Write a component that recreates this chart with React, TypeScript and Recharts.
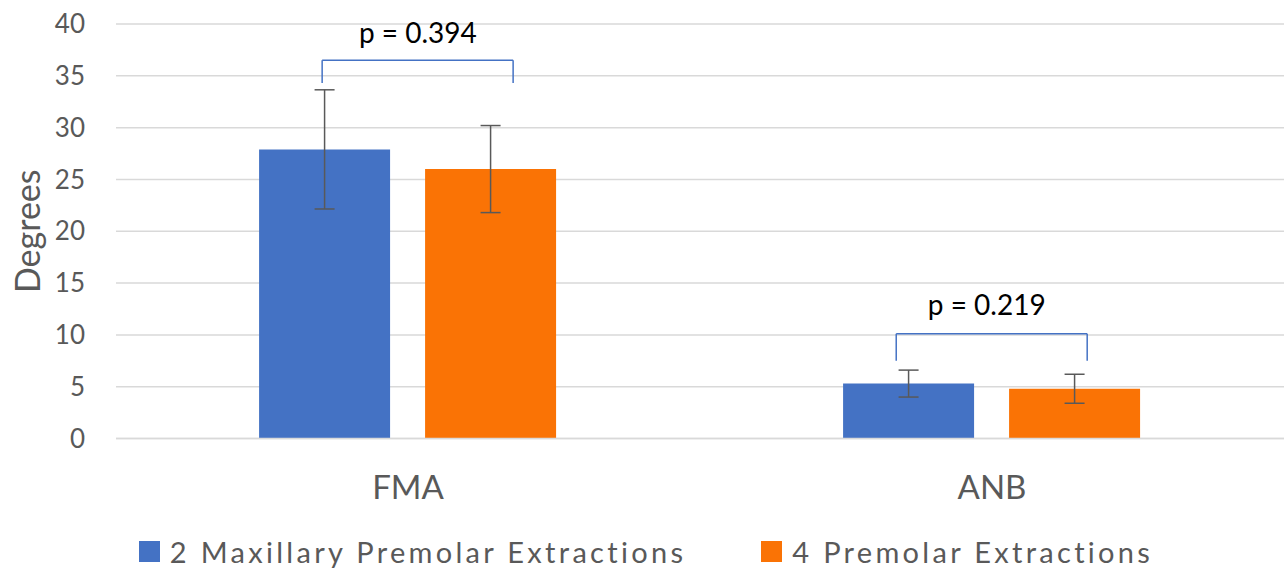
import React from 'react';
import {
  BarChart,
  Bar,
  XAxis,
  YAxis,
  CartesianGrid,
  ErrorBar,
  Legend,
  ReferenceLine,
  ReferenceDot,
} from 'recharts';

// Mean angles (degrees) and standard deviations per measurement
const categories = ['FMA', 'ANB'];
const categoryCentres = [0.5, 1.5];
const maxillaryMeans = [27.9, 5.3];
const maxillarySD = [5.75, 1.3];
const premolarMeans = [26.0, 4.8];
const premolarSD = [4.2, 1.4];
const yTicks = [0, 5, 10, 15, 20, 25, 30, 35, 40];

// Significance brackets; x runs 0..2 across the two category bands
const pLabels = ['p = 0.394', 'p = 0.219'];
const bracketLeft = [0.353, 1.336];
const bracketRight = [0.68, 1.663];
const bracketTop = [36.5, 10.1];
const bracketFoot = [34.3, 7.5];
const pLabelX = [0.517, 1.491];
const pLabelY = [39.1, 12.9];

const FONT = 'Lato, "Open Sans", sans-serif';
const GREY_TEXT = '#595959';
const BLUE = '#4472C4';
const ORANGE = '#FA7305';

const data = categories.map((c, i) => ({
  category: c,
  pos: categoryCentres[i],
  maxillary: maxillaryMeans[i],
  maxillarySD: maxillarySD[i],
  premolar: premolarMeans[i],
  premolarSD: premolarSD[i],
}));

const renderLegend = (props: any) => {
  const payload = props.payload || [];
  return (
    <div
      style={{
        display: 'flex',
        justifyContent: 'center',
        alignItems: 'center',
        height: 30,
        fontFamily: FONT,
        fontSize: 29,
        letterSpacing: 3.3,
        color: GREY_TEXT,
        paddingLeft: 8,
      }}
    >
      {payload.map((entry: any, i: number) => (
        <div
          key={i}
          style={{ display: 'flex', alignItems: 'center', marginLeft: i ? 75 : 0 }}
        >
          <span
            style={{
              display: 'inline-block',
              width: 21,
              height: 21,
              background: entry.color,
              marginRight: 10,
            }}
          />
          <span>{entry.value}</span>
        </div>
      ))}
    </div>
  );
};

const renderYLabel = (p: any) => {
  const vb = p.viewBox || { x: 0, y: 0, width: 0, height: 0 };
  const cx = vb.x + 26;
  const cy = vb.y + vb.height / 2;
  return (
    <text
      x={cx}
      y={cy}
      transform={`rotate(-90 ${cx} ${cy})`}
      textAnchor="middle"
      dominantBaseline="central"
      fill={GREY_TEXT}
      fontFamily={FONT}
      fontSize={34}
    >
      Degrees
    </text>
  );
};

export default function App() {
  return (
    <div style={{ position: 'absolute', left: 0, top: 0, background: '#fff' }}>
      <BarChart
        width={1288}
        height={572}
        data={data}
        margin={{ top: 24, right: 4, left: 0, bottom: 6 }}
        barCategoryGap="24.5%"
        barGap={35}
      >
        <CartesianGrid vertical={false} stroke="#d9d9d9" strokeWidth={1.5} />
        <XAxis
          dataKey="category"
          axisLine={{ stroke: '#d9d9d9', strokeWidth: 1.5 }}
          tickLine={false}
          tickSize={0}
          tickMargin={37}
          height={97.5}
          tick={{ fill: GREY_TEXT, fontSize: 33, fontFamily: FONT }}
        />
        <XAxis
          xAxisId="n"
          dataKey="pos"
          type="number"
          domain={[0, 2]}
          hide
          allowDataOverflow
        />
        <YAxis
          domain={[0, 40]}
          ticks={yTicks}
          interval={0}
          axisLine={false}
          tickLine={false}
          tickSize={0}
          tickMargin={31}
          width={116}
          tick={{ fill: GREY_TEXT, fontSize: 26, fontFamily: FONT }}
          label={{ content: renderYLabel }}
        />
        <Legend verticalAlign="bottom" height={30} content={renderLegend} />
        <Bar
          dataKey="maxillary"
          name="2 Maxillary Premolar Extractions"
          fill={BLUE}
          isAnimationActive={false}
        >
          <ErrorBar dataKey="maxillarySD" width={10} stroke="#595959" strokeWidth={1.5} />
        </Bar>
        <Bar
          dataKey="premolar"
          name="4 Premolar Extractions"
          fill={ORANGE}
          isAnimationActive={false}
        >
          <ErrorBar dataKey="premolarSD" width={10} stroke="#595959" strokeWidth={1.5} />
        </Bar>
        {pLabels.map((_, i) => (
          <ReferenceLine
            key={`l${i}`}
            xAxisId="n"
            ifOverflow="visible"
            segment={[
              { x: bracketLeft[i], y: bracketFoot[i] },
              { x: bracketLeft[i], y: bracketTop[i] },
            ]}
            stroke={BLUE}
            strokeWidth={1.5}
          />
        ))}
        {pLabels.map((_, i) => (
          <ReferenceLine
            key={`t${i}`}
            xAxisId="n"
            ifOverflow="visible"
            segment={[
              { x: bracketLeft[i], y: bracketTop[i] },
              { x: bracketRight[i], y: bracketTop[i] },
            ]}
            stroke={BLUE}
            strokeWidth={1.5}
          />
        ))}
        {pLabels.map((_, i) => (
          <ReferenceLine
            key={`r${i}`}
            xAxisId="n"
            ifOverflow="visible"
            segment={[
              { x: bracketRight[i], y: bracketTop[i] },
              { x: bracketRight[i], y: bracketFoot[i] },
            ]}
            stroke={BLUE}
            strokeWidth={1.5}
          />
        ))}
        {pLabels.map((txt, i) => (
          <ReferenceDot
            key={`p${i}`}
            xAxisId="n"
            ifOverflow="visible"
            x={pLabelX[i]}
            y={pLabelY[i]}
            r={0}
            fill="none"
            stroke="none"
            label={{
              value: txt,
              position: 'center',
              fill: '#000',
              fontSize: 28,
              fontFamily: FONT,
            }}
          />
        ))}
      </BarChart>
    </div>
  );
}
